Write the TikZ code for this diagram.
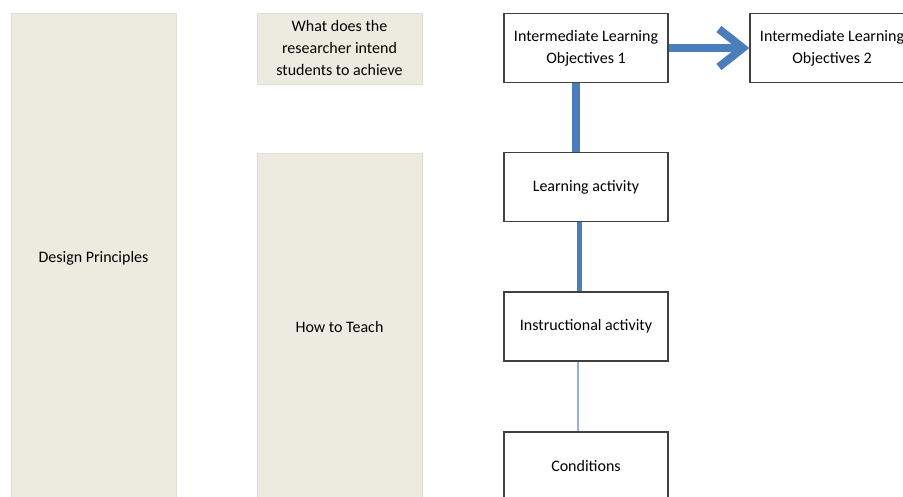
\documentclass[tikz,border=0pt]{standalone}
\usepackage{fontspec}
\setmainfont{Carlito}
\usetikzlibrary{arrows.meta}
\definecolor{panel}{HTML}{EDEBE0}
\definecolor{linkblue}{HTML}{4A7EBB}
\definecolor{thinblue}{HTML}{95B3D7}
\begin{document}
\begin{tikzpicture}[x=1pt,y=-1pt,
	panel/.style={fill=panel, draw=panel!95!black, line width=0.3pt, inner sep=0pt, align=center,
		font=\fontsize{16}{22}\selectfont},
	stage/.style={draw=black!75, line width=1.3pt, fill=white, minimum width=164pt, minimum height=69pt,
		inner sep=0pt, align=center, font=\fontsize{16}{22}\selectfont},
	link/.style={draw=linkblue}]
	\useasboundingbox (0,0) rectangle (903,497);
	\clip (0,0) rectangle (903,497);
	\node (DP)   at ( 93.5, 258)	[panel, minimum width=165pt, minimum height=490pt]	{Design Principles};
	\node (Aim)  at (339.5, 48.5)	[panel, minimum width=165pt, minimum height=71pt]	{What does the\\researcher intend\\students to achieve};
	\node (Teach) at (339.5, 327)	[panel, minimum width=165pt, minimum height=348pt]	{How to Teach};
	\node (ILO1) at (586, 48)	[stage]	{Intermediate Learning\\Objectives 1};
	\node (ILO2) at (832, 48)	[stage]	{Intermediate Learning\\Objectives 2};
	\node (LA)   at (586, 187)	[stage]	{Learning activity};
	\node (IA)   at (586, 326.5)	[stage]	{Instructional activity};
	\node (Cond) at (586, 466.5)	[stage]	{Conditions};
	\draw [link, line width=8pt, -{Straight Barb[length=24pt, width=38pt]}] (ILO1.east) -- (ILO2.west);
	\draw [link, line width=8pt] ([xshift=-10pt]ILO1.south) -- ([xshift=-10pt]LA.north);
	\draw [link, line width=5pt] ([xshift=-7pt]LA.south) -- ([xshift=-7pt]IA.north);
	\draw [draw=thinblue, line width=1.5pt] ([xshift=-8pt]IA.south) -- ([xshift=-8pt]Cond.north);
\end{tikzpicture}
\end{document}
